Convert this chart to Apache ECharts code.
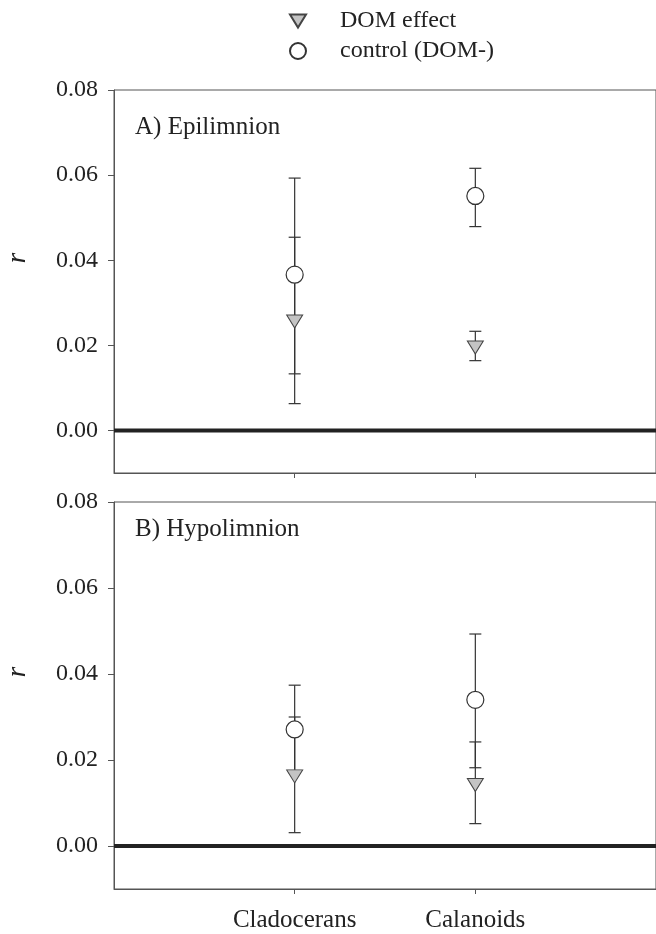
<!DOCTYPE html>
<html>
<head>
<meta charset="utf-8">
<script src="https://cdn.jsdelivr.net/npm/echarts@6/dist/echarts.min.js"></script>
<style>
html,body{margin:0;padding:0;background:#fff;}
#chart{width:656px;height:934px;}
</style>
</head>
<body>
<div id="chart"></div>
<script>
// ---- data ----
const categories = ['Cladocerans', 'Calanoids'];
const yTicks = [0, 0.02, 0.04, 0.06, 0.08];
const panelTitles = ['A) Epilimnion', 'B) Hypolimnion'];
const seriesNames = ['DOM effect', 'control (DOM-)'];

// Panel A (Epilimnion)
const domA = [0.0256, 0.0195];
const domALow = [0.0063, 0.0164];
const domAHigh = [0.0454, 0.0233];
const ctrlA = [0.0366, 0.0551];
const ctrlALow = [0.0133, 0.0479];
const ctrlAHigh = [0.0593, 0.0616];

// Panel B (Hypolimnion)
const domB = [0.0162, 0.0142];
const domBLow = [0.0031, 0.0052];
const domBHigh = [0.0300, 0.0242];
const ctrlB = [0.0271, 0.0340];
const ctrlBLow = [0.0170, 0.0182];
const ctrlBHigh = [0.0374, 0.0493];

// ---- chart ----
const FONT = '"Liberation Serif", "Times New Roman", serif';
const chart = echarts.init(document.getElementById('chart'), null, {renderer: 'canvas'});

function pts(vals) { return vals.map((v, i) => [i, v]); }
function errs(lo, hi) { return lo.map((l, i) => [i, l, hi[i]]); }

function errRender(params, api) {
  const x = api.value(0);
  const p1 = api.coord([x, api.value(1)]);
  const p2 = api.coord([x, api.value(2)]);
  const cap = 6;
  const style = {stroke: '#333', lineWidth: 1.2};
  return {
    type: 'group',
    children: [
      {type: 'line', shape: {x1: p1[0], y1: p1[1], x2: p2[0], y2: p2[1]}, style: style},
      {type: 'line', shape: {x1: p1[0] - cap, y1: p1[1], x2: p1[0] + cap, y2: p1[1]}, style: style},
      {type: 'line', shape: {x1: p2[0] - cap, y1: p2[1], x2: p2[0] + cap, y2: p2[1]}, style: style}
    ]
  };
}

const grids = [
  {left: 114, top: 90, right: -6, height: 383},
  {left: 114, top: 502, right: -6, height: 387}
];

const panels = [
  {dom: domA, domLo: domALow, domHi: domAHigh, ctrl: ctrlA, ctrlLo: ctrlALow, ctrlHi: ctrlAHigh},
  {dom: domB, domLo: domBLow, domHi: domBHigh, ctrl: ctrlB, ctrlLo: ctrlBLow, ctrlHi: ctrlBHigh}
];

const TRI_DOWN = 'path://M0,0 L16,0 L8,13 Z';

const xAxes = [], yAxes = [], series = [];
panels.forEach((p, i) => {
  xAxes.push({
    type: 'value', gridIndex: i, min: -1, max: 2, position: 'bottom',
    axisLine: {show: true, onZero: false, lineStyle: {color: '#555', width: 1}},
    axisTick: {show: true, inside: false, length: 5, customValues: categories.map((c, k) => k), lineStyle: {color: '#555'}},
    axisLabel: {show: i === 1, customValues: categories.map((c, k) => k), formatter: v => categories[v] || '',
      fontFamily: FONT, fontSize: 25, color: '#222', margin: 19},
    splitLine: {show: false}
  });
  yAxes.push({
    type: 'value', gridIndex: i, min: -0.01, max: 0.08, position: 'left',
    axisLine: {show: true, onZero: false, lineStyle: {color: '#555', width: 1}},
    axisTick: {show: true, inside: false, length: 6, customValues: yTicks, lineStyle: {color: '#555'}},
    axisLabel: {customValues: yTicks, formatter: v => v.toFixed(2), fontFamily: FONT, fontSize: 24, color: '#222', margin: 16},
    splitLine: {show: false}
  });
  series.push({
    type: 'line', xAxisIndex: i, yAxisIndex: i, data: [[-1, 0], [2, 0]],
    symbol: 'none', silent: true, lineStyle: {color: '#222', width: 4}, z: 1
  });
  series.push({
    type: 'custom', xAxisIndex: i, yAxisIndex: i, renderItem: errRender,
    data: errs(p.domLo, p.domHi), encode: {x: 0, y: [1, 2]}, z: 2, silent: true
  });
  series.push({
    type: 'custom', xAxisIndex: i, yAxisIndex: i, renderItem: errRender,
    data: errs(p.ctrlLo, p.ctrlHi), encode: {x: 0, y: [1, 2]}, z: 2, silent: true
  });
  series.push({
    name: seriesNames[0], type: 'scatter', xAxisIndex: i, yAxisIndex: i,
    data: pts(p.dom), symbol: TRI_DOWN, symbolSize: [16, 13],
    itemStyle: {color: '#c4c4c4', borderColor: '#444', borderWidth: 1, opacity: 1}, z: 3
  });
  series.push({
    name: seriesNames[1], type: 'scatter', xAxisIndex: i, yAxisIndex: i,
    data: pts(p.ctrl), symbol: 'circle', symbolSize: 17,
    itemStyle: {color: '#ffffff', borderColor: '#333', borderWidth: 1.2, opacity: 1}, z: 4
  });
});

const option = {
  animation: false,
  backgroundColor: '#fff',
  grid: grids.map(g => Object.assign({show: true, borderColor: '#555', borderWidth: 1, backgroundColor: 'transparent'}, g)),
  xAxis: xAxes,
  yAxis: yAxes,
  legend: {
    orient: 'vertical', left: 284, top: 4, itemWidth: 16, itemHeight: 16, itemGap: 6,
    data: [{name: seriesNames[0], icon: TRI_DOWN}, {name: seriesNames[1], icon: 'circle'}],
    selectedMode: false,
    textStyle: {fontFamily: FONT, fontSize: 24, color: '#222', lineHeight: 22, padding: [0, 0, 0, 29]}
  },
  title: panelTitles.map((t, i) => ({
    text: t, left: 135, top: i === 0 ? 115 : 517, padding: 0,
    textStyle: {fontFamily: FONT, fontSize: 25, fontWeight: 'normal', color: '#222'}
  })),
  graphic: [0, 1].map(i => ({
    type: 'text', x: 18, y: i === 0 ? 258 : 672, rotation: Math.PI / 2,
    style: {text: 'r', font: 'italic 27px ' + FONT, fill: '#222', align: 'center', verticalAlign: 'middle'}
  })),
  series: series
};
chart.setOption(option);
</script>
</body>
</html>
